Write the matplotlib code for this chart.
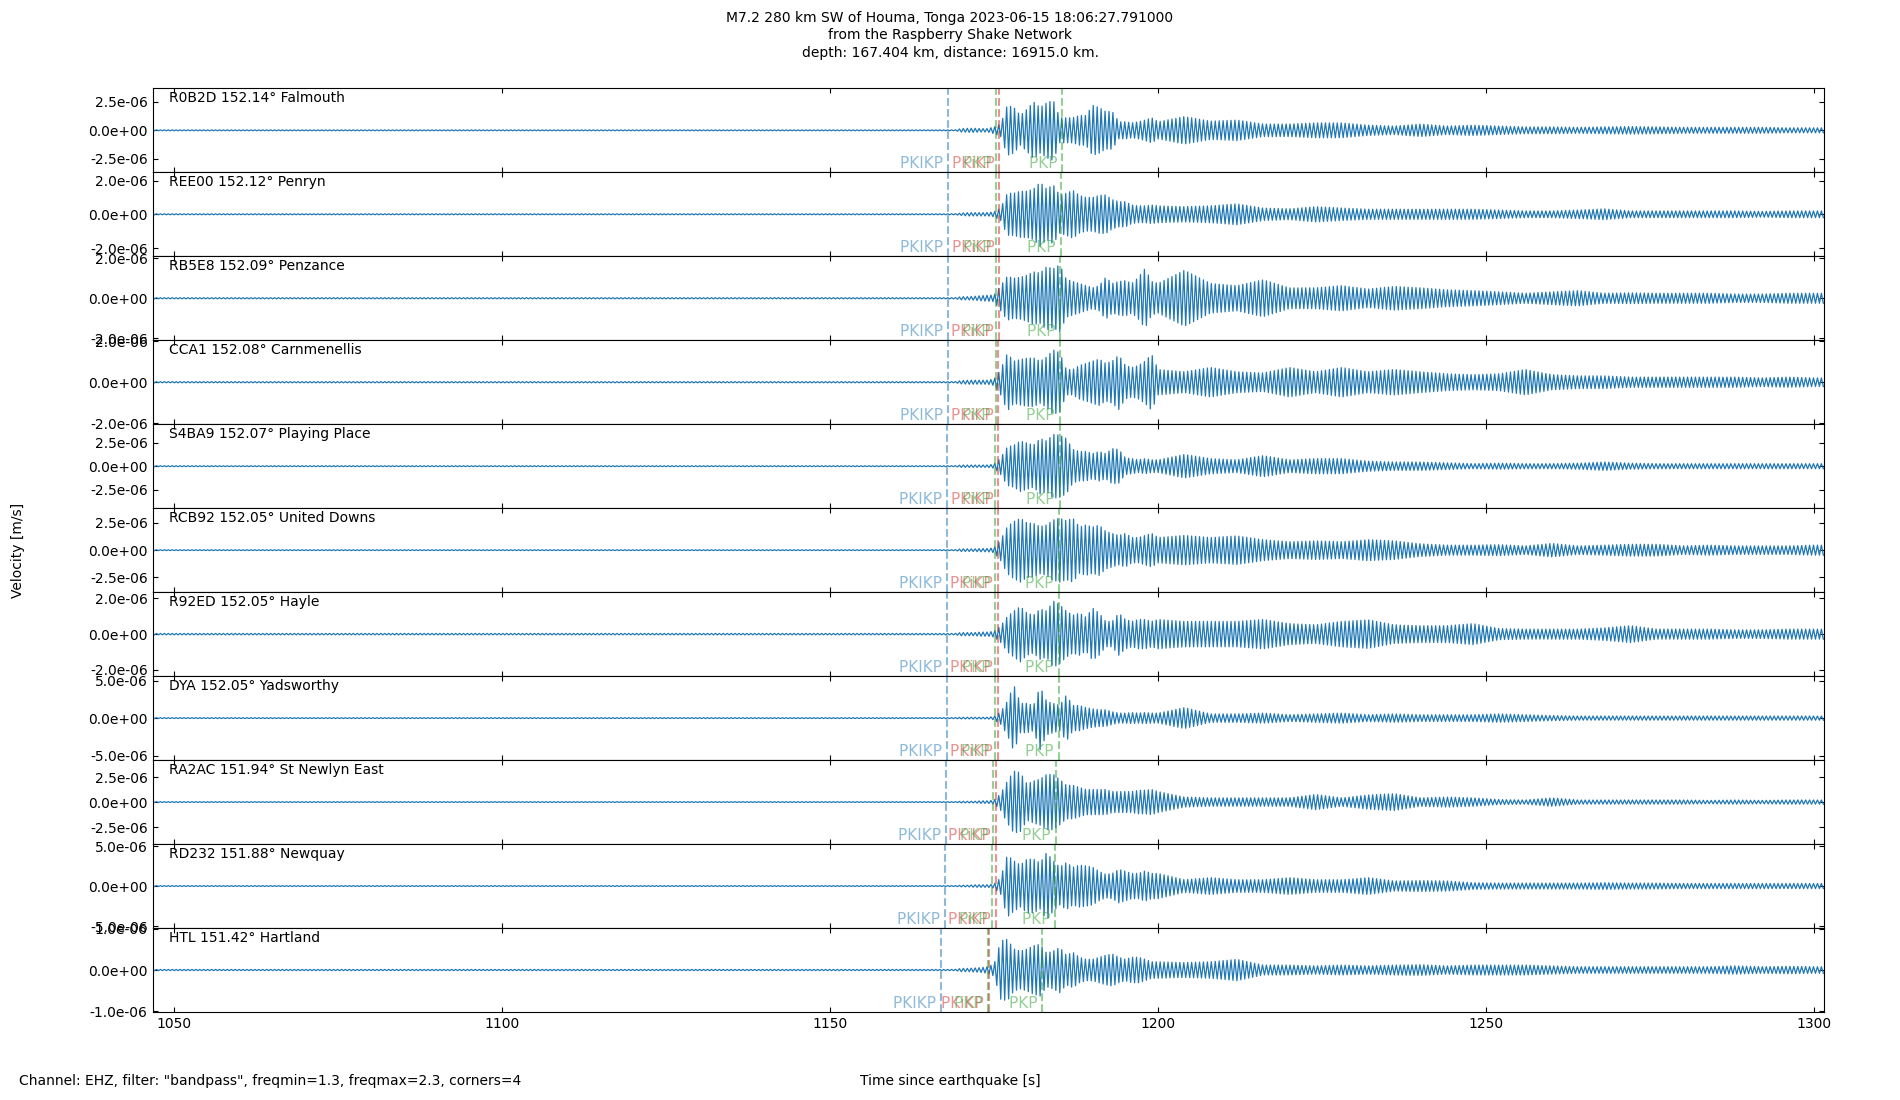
import numpy as np
import matplotlib.pyplot as plt
from matplotlib.ticker import FormatStrFormatter, MultipleLocator

stations = ["R0B2D", "REE00", "RB5E8", "CCA1", "S4BA9", "RCB92", "R92ED", "DYA", "RA2AC", "RD232", "HTL"]
distances = [152.14, 152.12, 152.09, 152.08, 152.07, 152.05, 152.05, 152.05, 151.94, 151.88, 151.42]
places = ["Falmouth", "Penryn", "Penzance", "Carnmenellis", "Playing Place", "United Downs",
          "Hayle", "Yadsworthy", "St Newlyn East", "Newquay", "Hartland"]

# predicted arrivals [s since origin]
t_PKIKP = [1168.0, 1168.0, 1167.9, 1167.9, 1167.84, 1167.84, 1167.79, 1167.79, 1167.63, 1167.48, 1166.82]
t_PKiKP = [1175.76, 1175.76, 1175.71, 1175.61, 1175.61, 1175.56, 1175.56, 1175.56, 1175.25, 1175.2, 1174.19]
t_PKP_a = [1175.3, 1175.3, 1175.25, 1175.25, 1175.15, 1175.15, 1175.15, 1175.1, 1174.8, 1174.7, 1174.0]
t_PKP_b = [1185.32, 1185.16, 1185.06, 1185.01, 1184.96, 1184.86, 1184.86, 1184.86, 1184.35, 1184.3, 1182.32]

# envelope of the traces [1e-6 m/s]:
# 1 s steps from 1168 to 1199, then 4 s steps from 1200 to 1300
env_R0B2D = [0.04, 0.04, 0.15, 0.18, 0.18, 0.15, 0.15, 0.30, 0.55, 2.20, 2.00, 1.30, 1.85, 2.50, 2.00, 2.40,
             2.65, 1.10, 1.10, 1.10, 1.30, 1.30, 2.20, 2.00, 1.65, 1.65, 0.75, 0.75, 0.65, 0.75, 0.90, 1.10,
             0.75, 1.20, 0.80, 0.90, 0.55, 0.55, 0.65, 0.65, 0.45, 0.37, 0.55, 0.37, 0.45, 0.37, 0.30, 0.30,
             0.26, 0.30, 0.33, 0.30, 0.26, 0.26, 0.26, 0.26, 0.22, 0.22]
env_REE00 = [.03, .03, .07, .10, .10, .10, .10, .15, .37, 1.25, 1.25, 1.37, 1.37, 1.50, 1.90, 1.50,
             1.75, 1.12, 1.25, 1.42, 1.12, 1.00, 1.00, 1.12, 1.15, .87, .75, .75, .55, .50, .50, .55,
             .50, .45, .50, .62, .37, .32, .45, .37, .30, .30, .30, .30, .30, .25, .20, .20,
             .25, .32, .20, .20, .20, .20, .20, .17, .20, .20]
env_RB5E8 = [.03, .03, .08, .08, .10, .13, .15, .17, .63, 1.10, 1.00, 1.05, 1.15, 1.32, 1.26, 1.58,
             1.47, 1.68, .95, .84, .74, .63, .52, .63, 1.05, .74, .84, .88, .74, 1.05, 1.49, .84,
             .74, 1.40, .74, .63, .92, .52, .52, .63, .46, .59, .52, .42, .38, .32, .25, .32,
             .38, .25, .27, .25, .25, .25, .21, .21, .25, .25]
env_CCA1 = [.03, .03, .08, .10, .10, .10, .10, .16, .62, 1.41, 1.03, 1.11, 1.17, 1.19, 1.03, 1.23,
            1.58, 1.44, .62, .62, .82, .92, 1.03, 1.13, .92, 1.03, 1.33, .82, .72, .82, 1.03, 1.37,
            .62, .51, .72, .51, .45, .72, .51, .72, .51, .62, .51, .41, .37, .41, .62, .37,
            .31, .31, .25, .25, .25, .25, .25, .21, .25, .21]
env_S4BA9 = [.05, .05, .13, .13, .13, .13, .13, .22, .90, 2.07, 2.25, 2.70, 2.48, 2.25, 2.97, 2.70,
             3.42, 3.33, 2.97, 1.80, 1.58, 1.58, 1.35, 1.58, 1.35, 1.89, 1.80, .90, .81, .68, .81, .68,
             .68, 1.26, .81, .68, 1.13, .68, .81, .81, .54, .45, .45, .36, .27, .32, .27, .27,
             .32, .45, .32, .27, .27, .27, .27, .27, .27, .27]
env_RCB92 = [.04, .04, .12, .12, .12, .15, .15, .23, .96, 2.16, 2.62, 2.93, 2.50, 2.46, 2.16, 2.31,
             2.77, 2.93, 2.70, 2.93, 2.12, 2.31, 2.12, 2.31, 1.73, 1.54, 1.35, 1.54, 1.16, 1.16, 1.35, 1.54,
             1.16, 1.35, 1.16, 1.31, .96, .77, .85, .77, .96, .85, .58, .46, .46, .50, .39, .62,
             .39, .46, .54, .54, .39, .46, .39, .39, .39, .46]
env_R92ED = [.04, .04, .09, .09, .09, .12, .12, .16, .47, .99, 1.29, 1.55, 1.18, 1.06, 1.41, 1.29,
             1.86, 1.65, 1.29, 1.06, 1.18, .94, 1.46, 1.18, .71, .71, 1.18, .82, .71, .82, .82, .71,
             .82, .71, .71, .71, .82, .59, .52, .71, .80, .52, .47, .47, .59, .31, .28, .28,
             .28, .35, .47, .28, .28, .28, .24, .24, .28, .28]
env_DYA = [.06, .06, .11, .11, .11, .11, .11, .22, .84, 2.24, 4.42, 1.96, 1.96, 1.68, 4.20, 2.24,
           1.96, 1.68, 3.08, 1.68, 1.68, 1.40, 1.23, 1.12, 1.12, .84, .67, .67, .73, .67, .73, .67,
           .67, 1.40, .56, .56, .67, .45, .56, .67, .45, .56, .45, .45, .45, .56, .45, .34,
           .28, .28, .28, .28, .28, .28, .28, .28, .28, .28]
env_RA2AC = [.04, .04, .08, .08, .08, .13, .13, .21, .84, 2.10, 3.11, 2.94, 1.81, 2.10, 2.31, 2.77,
             2.77, 2.27, 1.68, 1.68, 1.47, 1.26, 1.26, 1.26, 1.26, 1.05, 1.05, 1.05, 1.05, 1.18, 1.18, 1.26,
             1.05, .50, .42, .42, .42, .42, .76, .42, .71, .84, .42, .50, .42, .25, .21, .42,
             .21, .21, .21, .21, .21, .17, .21, .17, .21, .21]
env_RD232 = [.05, .05, .10, .10, .16, .16, .16, .26, 1.05, 3.89, 3.15, 2.63, 3.36, 3.36, 2.89, 4.20,
             3.15, 2.36, 2.94, 2.36, 2.63, 2.52, 2.36, 1.84, 1.47, 1.58, 2.10, 1.84, 1.58, 1.58, 1.89, 1.58,
             1.58, .79, 1.05, .79, .79, 1.05, .79, .79, 1.05, .63, .68, .63, .42, .37, .37, .37,
             .37, .42, .37, .37, .32, .32, .32, .32, .32, .32]
env_HTL = [.015, .015, .04, .04, .05, .06, .08, .15, .71, .75, .51, .46, .51, .59, .63, .41,
           .46, .55, .36, .43, .31, .26, .26, .31, .36, .39, .31, .26, .31, .31, .26, .20,
           .20, .18, .20, .26, .12, .12, .10, .12, .10, .12, .13, .10, .12, .12, .12, .10,
           .08, .08, .08, .08, .08, .08, .10, .08, .09, .08]

envelopes = [env_R0B2D, env_REE00, env_RB5E8, env_CCA1, env_S4BA9, env_RCB92,
             env_R92ED, env_DYA, env_RA2AC, env_RD232, env_HTL]

# half height of each panel [1e-6 m/s]
y_half = [3.68, 2.49, 2.10, 2.05, 4.50, 3.85, 2.35, 5.60, 4.20, 5.25, 1.02]

title = ("M7.2 280 km SW of Houma, Tonga 2023-06-15 18:06:27.791000\n"
         "from the Raspberry Shake Network\n"
         "depth: 167.404 km, distance: 16915.0 km.")

t_env = np.concatenate([np.arange(1168, 1200), np.arange(1200, 1301, 4)])
# one turning point every 0.3 s (~1.7 Hz, inside the 1.3-2.3 Hz band)
t = np.arange(1046.7, 1301.5, 0.3)
swing = np.where(np.arange(len(t)) % 2 == 0, 1.0, -1.0)

fig, axes = plt.subplots(len(stations), 1, sharex=True, figsize=(19, 11), dpi=100)
fig.subplots_adjust(left=0.0803, right=0.96, top=0.9197, bottom=0.08, hspace=0)

phases = [("PKIKP", t_PKIKP, "C0"), ("PKiKP", t_PKiKP, "C3"),
          ("PKP", t_PKP_a, "C2"), ("PKP", t_PKP_b, "C2")]

for i, ax in enumerate(axes):
    amp = np.interp(t, t_env, envelopes[i]) * 1e-6
    ax.plot(t, amp * swing, color="C0", lw=0.9)

    for name, times, col in phases:
        ax.axvline(times[i], color=col, ls="--", lw=1.5, alpha=0.5)
        ax.text(times[i], 0.01, name + " ", color=col, alpha=0.5, fontsize=11,
                ha="right", va="bottom", transform=ax.get_xaxis_transform())

    ax.text(0.01, 0.97, f"{stations[i]} {distances[i]:.2f}° {places[i]}",
            transform=ax.transAxes, va="top", fontsize=10)

    ax.set_ylim(-y_half[i] * 1e-6, y_half[i] * 1e-6)
    ax.set_xlim(1046.7, 1301.5)
    ax.yaxis.set_major_formatter(FormatStrFormatter("%.1e"))
    ax.xaxis.set_major_locator(MultipleLocator(50))
    ax.tick_params(direction="in", top=True, right=True)

fig.suptitle(title, fontsize=10, y=0.99, linespacing=1.3)
fig.text(0.0095, 0.5, "Velocity [m/s]", rotation=90, va="center", ha="center", fontsize=10)
fig.text(0.5, 0.0173, "Time since earthquake [s]", ha="center", va="center", fontsize=10)
fig.text(0.01, 0.0173, 'Channel: EHZ, filter: "bandpass", freqmin=1.3, freqmax=2.3, corners=4',
         ha="left", va="center", fontsize=10)

plt.savefig("out.png")
